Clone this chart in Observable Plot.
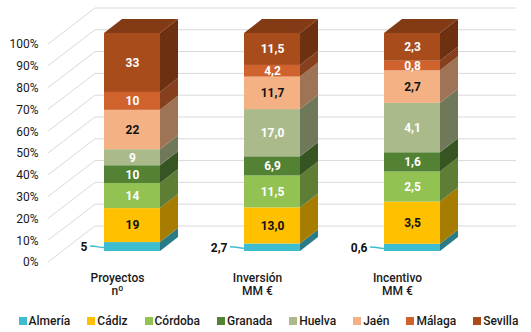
<!DOCTYPE html>
<html><head><meta charset="utf-8">
<script src="https://cdn.jsdelivr.net/npm/d3@7"></script>
<script src="https://cdn.jsdelivr.net/npm/@observablehq/plot@0.6"></script>
<style>
body{margin:0;background:#fff;font-family:Roboto,sans-serif;}
#legend{display:flex;justify-content:center;gap:17px;font-size:12px;font-weight:500;color:#1a1a1a;height:22px;align-items:center;padding-left:6px;}
#legend span.item{display:inline-flex;align-items:center;}
#legend span.sw{display:inline-block;width:8px;height:8px;margin-right:2px;}
</style></head><body><div id="chart"></div><div id="legend"></div>
<script>
const categories = ["Proyectos\nnº", "Inversión\nMM €", "Incentivo\nMM €"];
const series = ["Almería", "Cádiz", "Córdoba", "Granada", "Huelva", "Jaén", "Málaga", "Sevilla"];
const proyectos = [5, 19, 14, 10, 9, 22, 10, 33];
const inversion = [2.7, 13.0, 11.5, 6.9, 17.0, 11.7, 4.2, 11.5];
const incentivo = [0.6, 3.5, 2.5, 1.6, 4.1, 2.7, 0.8, 2.3];
const colors = ["#3FBDD0", "#FFC000", "#92C251", "#548235", "#ABBA8A", "#F4B184", "#D0622E", "#A84C1C"];
const labelColors = ["#111", "#111", "#fff", "#fff", "#fff", "#111", "#fff", "#fff"];
const yTicks = [0, 0.1, 0.2, 0.3, 0.4, 0.5, 0.6, 0.7, 0.8, 0.9, 1];

const columns = [proyectos, inversion, incentivo];
const decimals = [0, 1, 1];
const data = [];
categories.forEach((cat, c) => series.forEach((s, k) => data.push({
  cat, series: s, value: columns[c][k],
  label: columns[c][k].toFixed(decimals[c]).replace(".", ",")
})));

const DX = 18, DY = 14; // bar depth in projection
const shade = (col, k) => { const c = d3.rgb(col); return d3.rgb(c.r * k, c.g * k, c.b * k).formatHex(); };

function grid(index, scales, values, dims) {
  const g = d3.create("svg:g").attr("fill", "none").attr("stroke", "#D9D9D9").attr("stroke-width", 1);
  const xl = dims.marginLeft, xr = dims.width - dims.marginRight;
  for (const i of index) {
    const y = values.y[i];
    g.append("path").attr("d", `M${xl - 14},${y + 11}L${xl + 33},${y - 25}H${xr + 34}`);
  }
  return g.node();
}

function bars3d(index, scales, values) {
  const g = d3.create("svg:g");
  const bw = typeof scales.x.bandwidth === "function" ? scales.x.bandwidth() : scales.x.bandwidth;
  const X = values.x, Y1 = values.y1, Y2 = values.y2, F = values.fill;
  const top = new Map();
  for (const i of index) {
    const t = Math.min(Y1[i], Y2[i]);
    if (!top.has(X[i]) || t < top.get(X[i])) top.set(X[i], t);
  }
  for (const i of index) {
    const x1 = X[i], x2 = x1 + bw;
    const yt = Math.min(Y1[i], Y2[i]), yb = Math.max(Y1[i], Y2[i]);
    const col = F[i];
    g.append("path").attr("fill", shade(col, 0.65))
      .attr("d", `M${x2},${yb}L${x2 + DX},${yb - DY}L${x2 + DX},${yt - DY}L${x2},${yt}Z`);
    g.append("rect").attr("x", x1).attr("y", yt).attr("width", bw).attr("height", yb - yt).attr("fill", col);
    if (yt === top.get(X[i])) {
      g.append("path").attr("fill", shade(col, 0.78))
        .attr("d", `M${x1},${yt}L${x1 + DX},${yt - DY}L${x2 + DX},${yt - DY}L${x2},${yt}Z`);
    }
    if (data[i].series === series[0]) {
      const ym = (yt + yb) / 2;
      g.append("path").attr("fill", "none").attr("stroke", col).attr("stroke-width", 1.5)
        .attr("d", `M${x1 - 14},${ym - 0.5}C${x1 - 6},${ym - 0.5} ${x1 - 6},${ym + 1} ${x1},${ym + 1}`);
    }
  }
  return g.node();
}

const chart = Plot.plot({
  width: 531, height: 310,
  marginLeft: 62, marginRight: 49, marginTop: 33, marginBottom: 59,
  style: {fontFamily: "Roboto, sans-serif", fontSize: "12px", color: "#1a1a1a", background: "#fff"},
  x: {domain: categories, paddingInner: 0.6, paddingOuter: 0.3, label: null},
  y: {domain: [0, 1], label: null},
  color: {domain: series, range: colors},
  marks: [
    Plot.ruleY(yTicks, {y: d => d, render: grid}),
    Plot.axisY(yTicks, {tickFormat: d => Math.round(d * 100) + "%", tickSize: 0, tickPadding: 24, dy: 11, label: null, fontSize: 12}),
    Plot.axisX({tickSize: 0, tickPadding: 21, dx: -15, label: null, lineHeight: 1.1, fontSize: 12, fontWeight: 500}),
    Plot.barY(data, Plot.stackY({offset: "normalize", x: "cat", y: "value", z: "series", fill: "series", render: bars3d})),
    Plot.text(data, Plot.stackY({offset: "normalize", x: "cat", y: "value", z: "series",
      text: d => d.series === series[0] ? "" : d.label,
      fill: d => labelColors[series.indexOf(d.series)], fontWeight: "bold", fontSize: 12})),
    Plot.text(data, Plot.stackY({offset: "normalize", x: "cat", y: "value", z: "series",
      text: d => d.series === series[0] ? d.label : "",
      fill: "#111", fontWeight: "bold", fontSize: 12, textAnchor: "end", dx: -45}))
  ]
});
document.getElementById("chart").appendChild(chart);

const legend = document.getElementById("legend");
series.forEach((s, k) => {
  const item = document.createElement("span");
  item.className = "item";
  const sw = document.createElement("span");
  sw.className = "sw";
  sw.style.background = colors[k];
  item.appendChild(sw);
  item.appendChild(document.createTextNode(s));
  legend.appendChild(item);
});
</script></body></html>
